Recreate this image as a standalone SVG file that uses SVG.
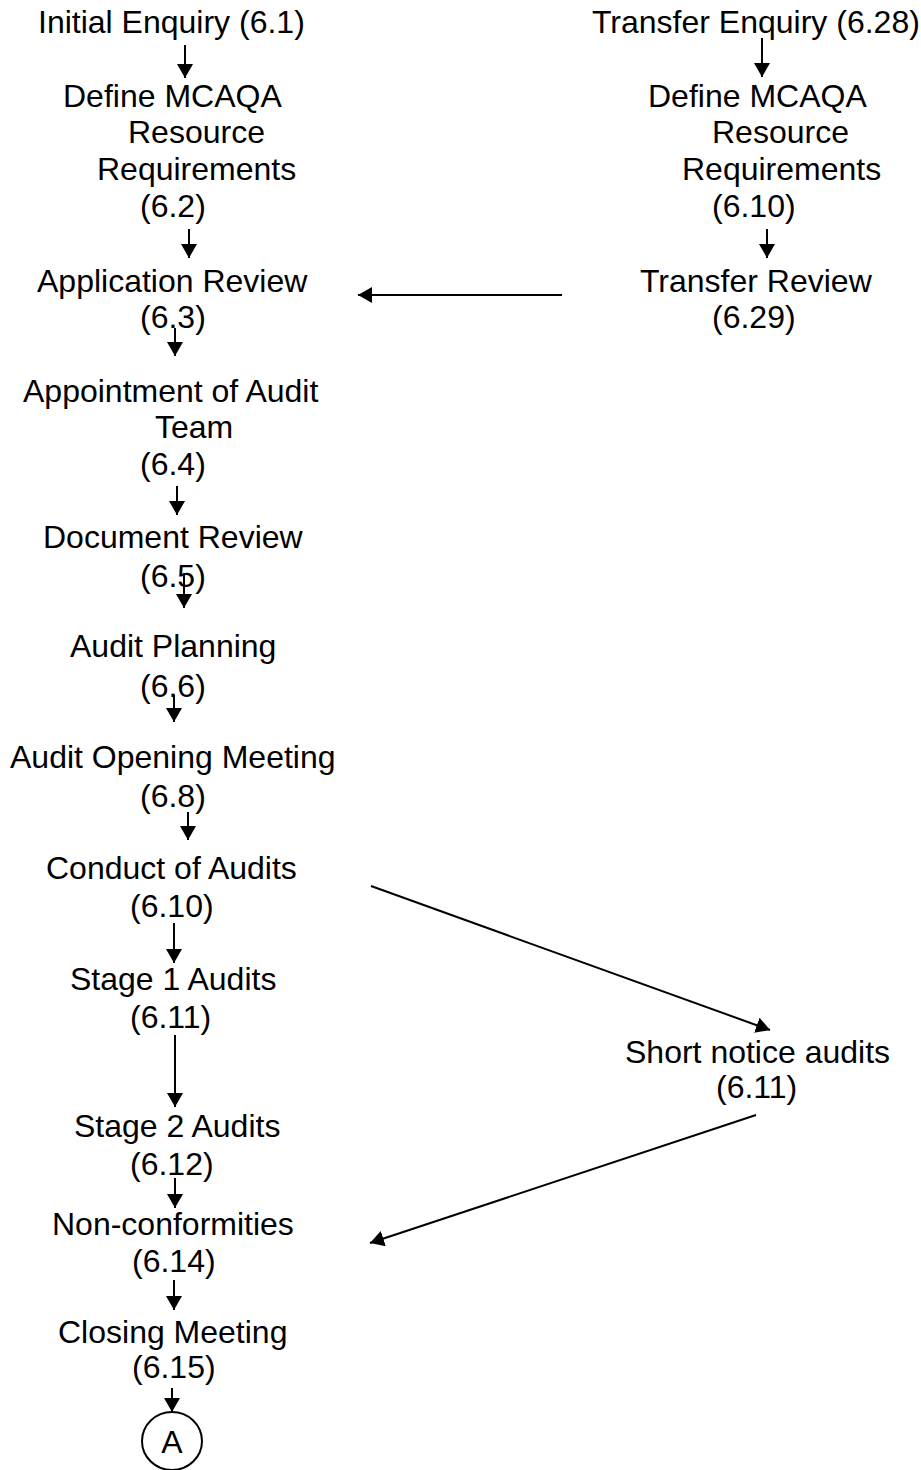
<svg xmlns="http://www.w3.org/2000/svg" width="921" height="1470" viewBox="0 0 921 1470">
<style>
text{font-family:"Liberation Sans",Arial,sans-serif;font-size:32px;fill:#000}
.c{stroke:#000;stroke-width:2;fill:none}
</style>
<defs>
<marker id="ah" markerUnits="userSpaceOnUse" markerWidth="15" markerHeight="17" refX="14" refY="8" orient="auto">
<path d="M0,0 L14,8 L0,16 z" fill="#000"/>
</marker>
</defs>
<rect width="921" height="1470" fill="#fff"/>
<g id="n1"><text x="38" y="33">Initial Enquiry (6.1)</text></g>
<g id="n2"><text x="63" y="107">Define MCAQA</text><text x="128" y="143">Resource</text><text x="97" y="180">Requirements</text><text x="140" y="217">(6.2)</text></g>
<g id="n3"><text x="37" y="292">Application Review</text><text x="140" y="328">(6.3)</text></g>
<g id="n4"><text x="23" y="402">Appointment of Audit</text><text x="155" y="438">Team</text><text x="140" y="475">(6.4)</text></g>
<g id="n5"><text x="43" y="548">Document Review</text><text x="140" y="587">(6.5)</text></g>
<g id="n6"><text x="70" y="657">Audit Planning</text><text x="140" y="697">(6.6)</text></g>
<g id="n7"><text x="10" y="768">Audit Opening Meeting</text><text x="140" y="807">(6.8)</text></g>
<g id="n8"><text x="46" y="879">Conduct of Audits</text><text x="130" y="917">(6.10)</text></g>
<g id="n9"><text x="70" y="990">Stage 1 Audits</text><text x="130" y="1028">(6.11)</text></g>
<g id="n10"><text x="74" y="1137">Stage 2 Audits</text><text x="130" y="1175">(6.12)</text></g>
<g id="n11"><text x="52" y="1235">Non-conformities</text><text x="132" y="1272">(6.14)</text></g>
<g id="n12"><text x="58" y="1343">Closing Meeting</text><text x="132" y="1378">(6.15)</text></g>
<g id="nA"><ellipse cx="172" cy="1441" rx="30" ry="29" class="c" stroke-width="1.5"/><text x="172" y="1453" text-anchor="middle">A</text></g>
<g id="r1"><text x="592" y="33">Transfer Enquiry (6.28)</text></g>
<g id="r2"><text x="648" y="107">Define MCAQA</text><text x="712" y="143">Resource</text><text x="682" y="180">Requirements</text><text x="712" y="217">(6.10)</text></g>
<g id="r3"><text x="640" y="292">Transfer Review</text><text x="712" y="328">(6.29)</text></g>
<g id="s1"><text x="625" y="1063">Short notice audits</text><text x="716" y="1098">(6.11)</text></g>
<g id="connectors" class="c" marker-end="url(#ah)">
<line x1="185" y1="45" x2="185" y2="78"/>
<line x1="189" y1="229" x2="189" y2="258"/>
<line x1="175" y1="328" x2="175" y2="356"/>
<line x1="177" y1="486" x2="177" y2="515"/>
<line x1="184" y1="573" x2="184" y2="608"/>
<line x1="174" y1="695" x2="174" y2="722"/>
<line x1="188" y1="812" x2="188" y2="840"/>
<line x1="174" y1="923" x2="174" y2="963"/>
<line x1="175" y1="1035" x2="175" y2="1107"/>
<line x1="175" y1="1178" x2="175" y2="1208"/>
<line x1="174" y1="1280" x2="174" y2="1310"/>
<line x1="172" y1="1388" x2="172" y2="1412"/>
<line x1="762" y1="38" x2="762" y2="77"/>
<line x1="767" y1="229" x2="767" y2="258"/>
<line x1="562" y1="295" x2="358" y2="295"/>
<line x1="371" y1="886" x2="770" y2="1030"/>
<line x1="756" y1="1115" x2="370" y2="1243"/>
</g>
</svg>
